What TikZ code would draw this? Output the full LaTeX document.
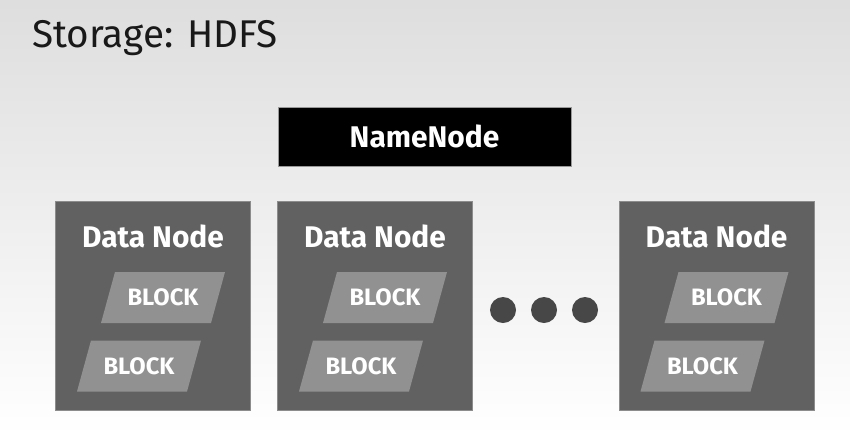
\documentclass[tikz,border=0pt]{standalone}
\usepackage{fontspec}
\setmainfont{Fira Sans}
\usetikzlibrary{calc}

\begin{document}
\begin{tikzpicture}[x=0.2mm, y=-0.2mm,
    datanode/.style={fill=black!62, draw=black!45, line width=0.4pt, rectangle,
      minimum width=39mm, minimum height=41.8mm},
    blocktext/.style={inner sep=0pt, text=white, font=\fontsize{13.5}{16}\selectfont\bfseries},
    dot/.style={fill=black!72, circle, minimum size=5.2mm, inner sep=0pt}]
    % background
    \shade[top color=black!13, bottom color=white] (0,0) rectangle (850,436);
    \useasboundingbox (0,0) rectangle (850,436);
    \node[anchor=base west, inner sep=0pt, text=black!90,
      font=\fontsize{22}{26}\selectfont] (title) at (32,47) {Storage: HDFS};
    \node[fill=black, draw=black!40, minimum width=58.6mm, minimum height=11.8mm,
      text=white, font=\fontsize{17}{20}\selectfont\bfseries] (namenode)
      at (424.5,136.5) {NameNode};
    \foreach \i/\x in {1/153, 2/375, 3/716.5}{
      \node[datanode] (dn\i) at (\x,305.5) {};
      \node[text=white, inner sep=0pt, font=\fontsize{17}{20}\selectfont\bfseries]
        (dnlabel\i) at ($(dn\i.north)+(0,36)$) {Data Node};
      % two slanted blocks per data node
      \foreach \blk/\dx/\y in {A/10/297.5, B/-14/366}{
        \coordinate (c) at (\x+\dx,\y);
        \fill[black!43] ($(c)+(-48,-25.5)$) -- ($(c)+(62,-25.5)$)
          -- ($(c)+(48,25.5)$) -- ($(c)+(-62,25.5)$) -- cycle;
        \node[blocktext] (block\blk\i) at (c) {BLOCK};
      }
    }
    \foreach \j/\x in {1/503, 2/544, 3/585}{
      \node[dot] (dot\j) at (\x,310) {};
    }
  \end{tikzpicture}
\end{document}
